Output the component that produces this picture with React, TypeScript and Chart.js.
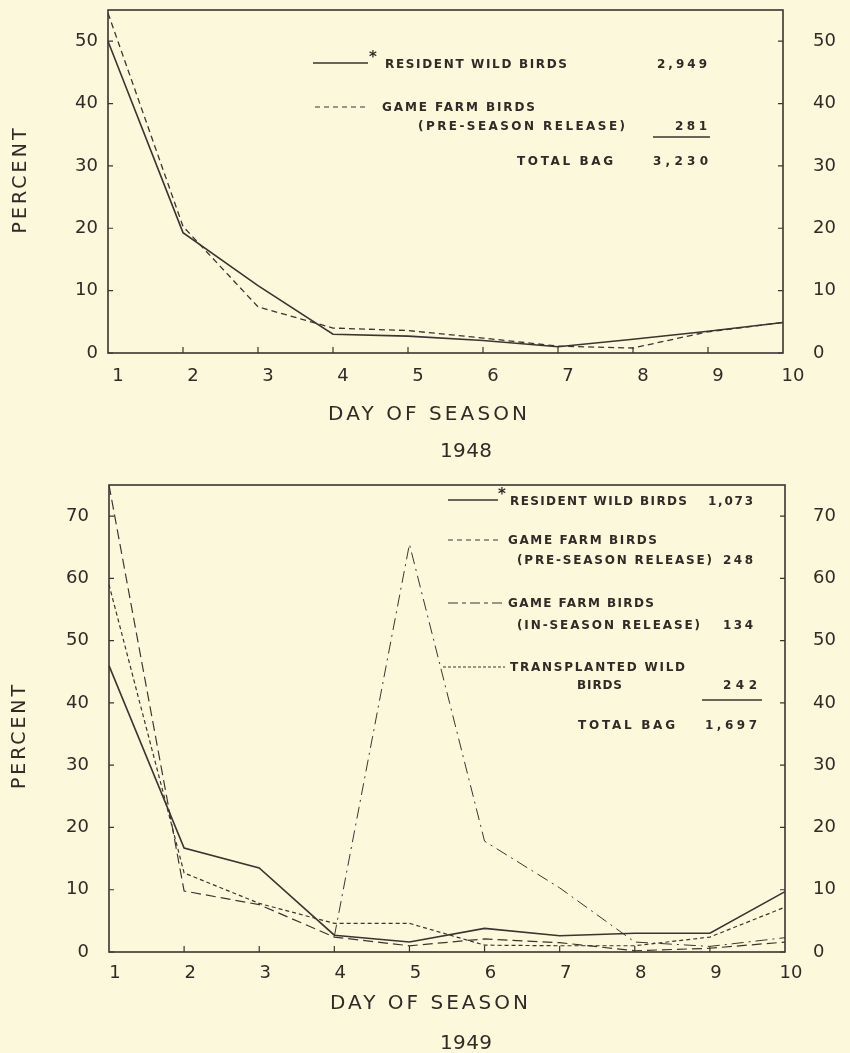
import React, { useEffect, useRef } from 'react';
import { Chart, registerables } from 'chart.js';

Chart.register(...registerables);

// ---------------- DATA ----------------
const DAYS = ['1', '2', '3', '4', '5', '6', '7', '8', '9', '10'];

// 1948 (percent of bag per day of season)
const RESIDENT_1948 = [50, 19.3, 10.8, 3.0, 2.7, 2.0, 1.0, 2.2, 3.5, 4.9];
const PRESEASON_1948 = [54.5, 20.3, 7.4, 4.0, 3.6, 2.4, 1.1, 0.8, 3.4, 4.9];

// 1949
const RESIDENT_1949 = [46, 16.7, 13.5, 2.7, 1.6, 3.8, 2.6, 3.0, 3.0, 9.7];
const PRESEASON_1949 = [75, 9.8, 7.6, 2.4, 1.0, 2.1, 1.5, 0.2, 0.6, 1.6];
const INSEASON_1949 = [null, null, null, 2.5, 65.5, 17.8, 10.3, 1.6, 0.9, 2.3];
const TRANSPLANT_1949 = [59, 12.7, 7.8, 4.6, 4.6, 1.1, 1.0, 1.0, 2.4, 7.2];

// legend counts
const COUNTS_1948 = ['2,949', '281', '3,230'];
const COUNTS_1949 = ['1,073', '248', '134', '242', '1,697'];

const Y_MAX_1948 = 55;
const Y_MAX_1949 = 75;
const Y_STEP = 10;

// ---------------- STYLE ----------------
const BG = '#fcf8dc';
const INK = '#2f2b26';
const LINE = '#3a3530';
const FAMILY = '"DejaVu Sans", "Liberation Sans", sans-serif';

function fitText(
  ctx: CanvasRenderingContext2D,
  t: string,
  x0: number,
  x1: number,
  yMid: number,
  size: number,
  bold = false
) {
  ctx.save();
  ctx.font = `${bold ? 'bold ' : ''}${size}px ${FAMILY}`;
  ctx.fillStyle = INK;
  ctx.textAlign = 'left';
  ctx.textBaseline = 'alphabetic';
  const anyCtx = ctx as any;
  if ('letterSpacing' in anyCtx) anyCtx.letterSpacing = '0px';
  const w = ctx.measureText(t).width;
  const n = t.length;
  const sp = n > 1 ? (x1 - x0 - w) / (n - 1) : 0;
  const base = yMid + size * 0.365;
  if ('letterSpacing' in anyCtx) {
    anyCtx.letterSpacing = `${sp}px`;
    ctx.fillText(t, x0, base);
    anyCtx.letterSpacing = '0px';
  } else {
    let x = x0;
    for (const ch of t) {
      ctx.fillText(ch, x, base);
      x += ctx.measureText(ch).width + sp;
    }
  }
  ctx.restore();
}

function sample(ctx: CanvasRenderingContext2D, x0: number, x1: number, y: number, dash: number[], w = 1.2) {
  ctx.save();
  ctx.strokeStyle = LINE;
  ctx.lineWidth = w;
  ctx.setLineDash(dash);
  ctx.beginPath();
  ctx.moveTo(x0, y);
  ctx.lineTo(x1, y);
  ctx.stroke();
  ctx.restore();
}

function vertText(ctx: CanvasRenderingContext2D, t: string, cx: number, cy: number, len: number, size: number) {
  ctx.save();
  ctx.translate(cx, cy);
  ctx.rotate(-Math.PI / 2);
  fitText(ctx, t, -len / 2, len / 2, 0, size, false);
  ctx.restore();
}

function framePlugin(extra: (ctx: CanvasRenderingContext2D) => void) {
  return {
    id: 'frameAndNotes',
    afterDatasetsDraw(chart: any) {
      const ctx: CanvasRenderingContext2D = chart.ctx;
      const a = chart.chartArea;
      const xs = chart.scales.x;
      const ys = chart.scales.y;
      ctx.save();
      ctx.strokeStyle = LINE;
      ctx.lineWidth = 1.6;
      ctx.setLineDash([]);
      ctx.strokeRect(a.left, a.top, a.right - a.left, a.bottom - a.top);
      ctx.lineWidth = 1.2;
      ctx.beginPath();
      for (const t of ys.ticks) {
        const py = ys.getPixelForValue(t.value);
        ctx.moveTo(a.left, py);
        ctx.lineTo(a.left + 5, py);
        ctx.moveTo(a.right, py);
        ctx.lineTo(a.right - 5, py);
      }
      for (let i = 1; i < DAYS.length - 1; i++) {
        const px = xs.getPixelForValue(i);
        ctx.moveTo(px, a.bottom);
        ctx.lineTo(px, a.bottom - 6);
      }
      ctx.stroke();
      ctx.restore();
      extra(ctx);
    },
  };
}

function makeConfig(
  datasets: any[],
  yMax: number,
  leftW: number,
  rightW: number,
  xH: number,
  topPad: number,
  leftGap: number,
  rightGap: number,
  xPad: number,
  labelOffset: number,
  extra: (ctx: CanvasRenderingContext2D) => void
): any {
  const tickFont = { family: FAMILY, size: 18, lineHeight: 1 };
  const yBase = (pos: 'left' | 'right', gap: number, w: number) => ({
    type: 'linear',
    position: pos,
    min: 0,
    max: yMax,
    grid: { display: false, drawTicks: true, tickLength: gap },
    border: { display: false },
    ticks: { stepSize: Y_STEP, padding: 0, font: tickFont, color: INK },
    afterBuildTicks: (s: any) => {
      s.ticks = s.ticks.filter((t: any) => t.value % Y_STEP === 0);
    },
    afterFit: (s: any) => {
      s.width = w;
    },
  });
  return {
    type: 'line',
    data: { labels: DAYS, datasets },
    options: {
      animation: false,
      responsive: false,
      maintainAspectRatio: false,
      layout: { padding: { top: topPad, left: 0, right: 0, bottom: 0 } },
      plugins: { legend: { display: false }, tooltip: { enabled: false } },
      elements: { point: { radius: 0 }, line: { tension: 0 } },
      scales: {
        x: {
          type: 'category',
          offset: false,
          grid: { display: false, drawTicks: false },
          border: { display: false },
          ticks: {
            padding: xPad,
            labelOffset,
            autoSkip: false,
            maxRotation: 0,
            font: tickFont,
            color: INK,
          },
          afterFit: (s: any) => {
            s.height = xH;
          },
        },
        y: yBase('left', leftGap, leftW),
        y2: yBase('right', rightGap, rightW),
      },
    },
    plugins: [framePlugin(extra)],
  };
}

const ds = (label: string, data: any[], dash: number[], width: number) => ({
  label,
  data,
  borderColor: LINE,
  borderWidth: width,
  borderDash: dash,
  fill: false,
  spanGaps: false,
  yAxisID: 'y',
});

const LEG = 12;

export default function App() {
  const topRef = useRef<HTMLCanvasElement>(null);
  const botRef = useRef<HTMLCanvasElement>(null);

  useEffect(() => {
    const top = new Chart(
      topRef.current as HTMLCanvasElement,
      makeConfig(
        [
          ds('Resident wild birds', RESIDENT_1948, [], 1.6),
          ds('Game farm birds (pre-season release)', PRESEASON_1948, [6, 4], 1.3),
        ],
        Y_MAX_1948,
        108,
        67,
        470 - 353,
        10,
        10,
        30,
        14,
        10,
        (ctx) => {
          // legend
          sample(ctx, 313, 368, 63, [], 1.4);
          fitText(ctx, '*', 369, 378, 57, 15, true);
          fitText(ctx, 'RESIDENT WILD BIRDS', 385, 567, 64, LEG, true);
          fitText(ctx, COUNTS_1948[0], 657, 707, 64, LEG, true);
          sample(ctx, 315, 368, 107, [5, 4], 1.2);
          fitText(ctx, 'GAME FARM BIRDS', 382, 535, 107, LEG, true);
          fitText(ctx, '(PRE-SEASON RELEASE)', 418, 625, 126, LEG, true);
          fitText(ctx, COUNTS_1948[1], 675, 707, 126, LEG, true);
          sample(ctx, 653, 710, 137, [], 1.3);
          fitText(ctx, 'TOTAL BAG', 517, 613, 161, LEG, true);
          fitText(ctx, COUNTS_1948[2], 653, 708, 161, LEG, true);
          // titles
          fitText(ctx, 'DAY OF SEASON', 328, 527, 413, 20);
          fitText(ctx, '1948', 440, 492, 450, 20);
          vertText(ctx, 'PERCENT', 19, 181, 105, 19);
        }
      )
    );

    const OFF = 470;
    const bot = new Chart(
      botRef.current as HTMLCanvasElement,
      makeConfig(
        [
          ds('Resident wild birds', RESIDENT_1949, [], 1.6),
          ds('Game farm birds (pre-season release)', PRESEASON_1949, [10, 5], 1.2),
          ds('Game farm birds (in-season release)', INSEASON_1949, [12, 5, 2, 5], 1.0),
          ds('Transplanted wild birds', TRANSPLANT_1949, [4, 3], 1.2),
        ],
        Y_MAX_1949,
        109,
        850 - 785,
        583 - (952 - OFF),
        485 - OFF,
        20,
        28,
        12,
        6,
        (ctx) => {
          sample(ctx, 448, 498, 500 - OFF, [], 1.4);
          fitText(ctx, '*', 498, 507, 494 - OFF, 15, true);
          fitText(ctx, 'RESIDENT WILD BIRDS', 510, 687, 501 - OFF, LEG, true);
          fitText(ctx, COUNTS_1949[0], 708, 753, 501 - OFF, LEG, true);
          sample(ctx, 448, 500, 540 - OFF, [5, 4], 1.2);
          fitText(ctx, 'GAME FARM BIRDS', 508, 657, 540 - OFF, LEG, true);
          fitText(ctx, '(PRE-SEASON RELEASE)', 517, 712, 560 - OFF, LEG, true);
          fitText(ctx, COUNTS_1949[1], 723, 753, 560 - OFF, LEG, true);
          sample(ctx, 448, 505, 603 - OFF, [10, 4, 4, 4], 1.1);
          fitText(ctx, 'GAME FARM BIRDS', 508, 654, 603 - OFF, LEG, true);
          fitText(ctx, '(IN-SEASON RELEASE)', 517, 700, 625 - OFF, LEG, true);
          fitText(ctx, COUNTS_1949[2], 723, 753, 625 - OFF, LEG, true);
          sample(ctx, 443, 505, 667 - OFF, [3, 2], 1.1);
          fitText(ctx, 'TRANSPLANTED WILD', 510, 685, 667 - OFF, LEG, true);
          fitText(ctx, 'BIRDS', 577, 622, 685 - OFF, LEG, true);
          fitText(ctx, COUNTS_1949[3], 723, 757, 685 - OFF, LEG, true);
          sample(ctx, 702, 762, 700 - OFF, [], 1.3);
          fitText(ctx, 'TOTAL BAG', 578, 675, 725 - OFF, LEG, true);
          fitText(ctx, COUNTS_1949[4], 705, 757, 725 - OFF, LEG, true);
          fitText(ctx, 'DAY OF SEASON', 330, 528, 1002 - OFF, 20);
          fitText(ctx, '1949', 440, 492, 1042 - OFF, 20);
          vertText(ctx, 'PERCENT', 18, 737 - OFF, 104, 19);
        }
      )
    );

    return () => {
      top.destroy();
      bot.destroy();
    };
  }, []);

  return (
    <div
      style={{
        position: 'fixed',
        left: 0,
        top: 0,
        width: 850,
        height: 1053,
        background: BG,
        overflow: 'hidden',
      }}
    >
      <canvas ref={topRef} width={850} height={470} style={{ position: 'absolute', left: 0, top: 0 }} />
      <canvas ref={botRef} width={850} height={583} style={{ position: 'absolute', left: 0, top: 470 }} />
    </div>
  );
}
